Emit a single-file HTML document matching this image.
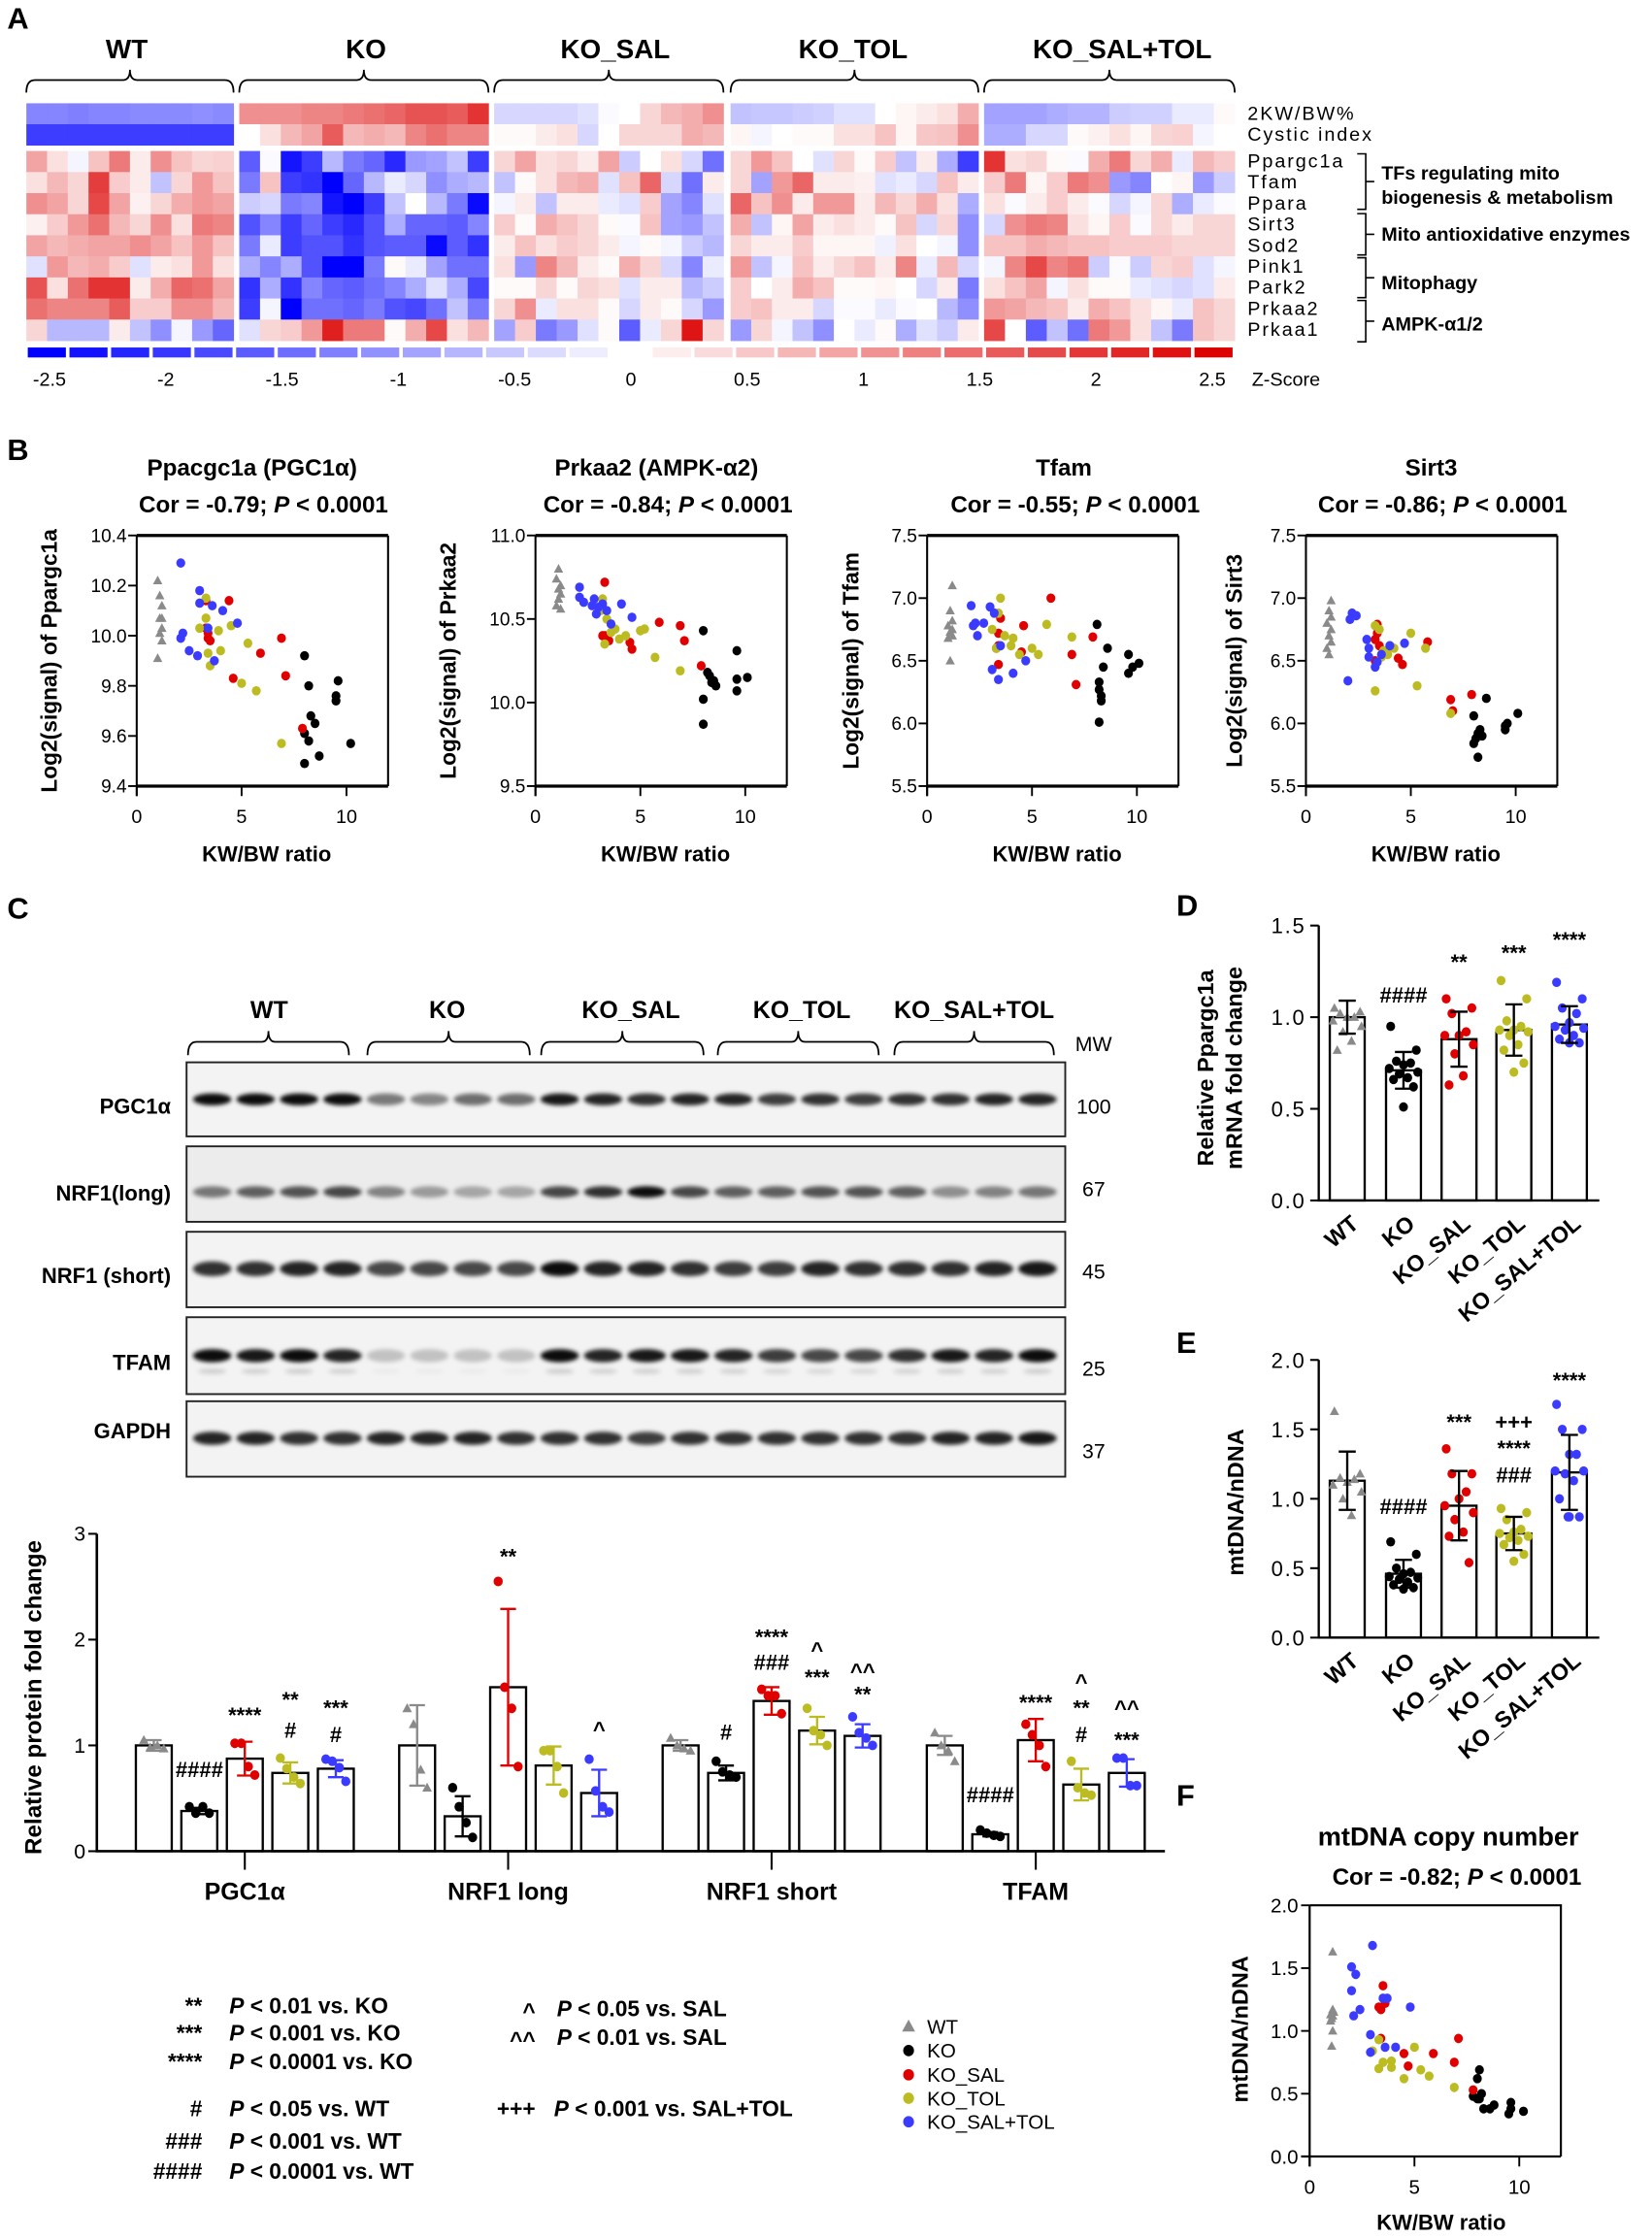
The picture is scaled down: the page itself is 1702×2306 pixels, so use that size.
<!DOCTYPE html>
<html><head><meta charset="utf-8">
<style>
html,body{margin:0;padding:0;background:#fff;}
svg{display:block;font-family:"Liberation Sans",Arial,sans-serif;}
.b{font-weight:bold;}
</style></head>
<body>
<svg id="fig" width="1702" height="2306" viewBox="0 0 1160 1571.6" xmlns="http://www.w3.org/2000/svg">
<defs>
<filter id="blur" x="-50%" y="-100%" width="200%" height="300%"><feGaussianBlur stdDeviation="1.4"/></filter>
</defs>
<text x="5" y="20" class="b" font-size="21">A</text>
<text x="5" y="323" class="b" font-size="21">B</text>
<text x="5" y="645" class="b" font-size="21">C</text>
<text x="826" y="643" class="b" font-size="21">D</text>
<text x="826" y="950" class="b" font-size="21">E</text>
<text x="826" y="1268" class="b" font-size="21">F</text>

<g id="heatmap"></g>
<g id="scatterB"></g>
<g id="blots"></g>
<g id="barC"></g>
<g id="barD"></g>
<g id="barE"></g>
<g id="scatF"></g>

<g font-size="15.5" class="b">
<text x="142" y="1414" text-anchor="end">**</text>
<text x="161" y="1414"><tspan font-style="italic">P</tspan> &lt; 0.01 vs. KO</text>
<text x="142" y="1433" text-anchor="end">***</text>
<text x="161" y="1433"><tspan font-style="italic">P</tspan> &lt; 0.001 vs. KO</text>
<text x="142" y="1453" text-anchor="end">****</text>
<text x="161" y="1453"><tspan font-style="italic">P</tspan> &lt; 0.0001 vs. KO</text>
<text x="142" y="1486" text-anchor="end">#</text>
<text x="161" y="1486"><tspan font-style="italic">P</tspan> &lt; 0.05 vs. WT</text>
<text x="142" y="1509" text-anchor="end">###</text>
<text x="161" y="1509"><tspan font-style="italic">P</tspan> &lt; 0.001 vs. WT</text>
<text x="142" y="1530" text-anchor="end">####</text>
<text x="161" y="1530"><tspan font-style="italic">P</tspan> &lt; 0.0001 vs. WT</text>
<text x="376" y="1418" text-anchor="end">^</text>
<text x="391" y="1416"><tspan font-style="italic">P</tspan> &lt; 0.05 vs. SAL</text>
<text x="376" y="1438" text-anchor="end">^^</text>
<text x="391" y="1436"><tspan font-style="italic">P</tspan> &lt; 0.01 vs. SAL</text>
<text x="376" y="1486" text-anchor="end">+++</text>
<text x="389" y="1486"><tspan font-style="italic">P</tspan> &lt; 0.001 vs. SAL+TOL</text>
</g>
<g id="groupLegend"></g>
</svg>
<script>
const groups = ['WT','KO','KO_SAL','KO_TOL','KO_SAL+TOL'];
const groupColors = ['#8a8a8a','#000000','#e00000','#bcbc22','#3b3bff'];

const hmCounts = [10,12,11,12,12];
const hmRowLabels = ['2KW/BW%','Cystic index','Ppargc1a','Tfam','Ppara','Sirt3','Sod2','Pink1','Park2','Prkaa2','Prkaa1'];
const hmKWBW = [-1.2,-1.2,-1.25,-1.2,-1.2,-1.15,-1.15,-1.15,-1.1,-1.15, 1.1,1.1,1.1,1.2,1.2,1.3,1.4,1.5,1.7,1.7,1.6,2.0, -0.4,-0.4,-0.4,-0.4,-0.3,-0.05,0.0,0.4,0.7,0.8,1.1, -0.6,-0.55,-0.55,-0.5,-0.45,-0.3,-0.3,0.0,0.1,0.2,0.3,0.8, -0.9,-0.9,-0.9,-0.8,-0.75,-0.75,-0.5,-0.45,-0.45,-0.2,-0.2,0.05];
const hmCystic = [-1.9,-1.9,-1.9,-1.9,-1.9,-1.9,-1.9,-1.9,-1.9,-1.9, 0.0,0.3,0.7,0.9,1.6,0.7,0.8,0.7,1.2,1.4,1.2,1.2, 0.05,0.05,0.2,0.3,-0.4,0.0,0.4,0.4,0.4,0.8,0.7, 0.1,-0.1,0.0,0.05,0.05,0.3,0.3,0.6,0.1,0.55,0.6,1.1, -0.8,-0.8,-0.4,-0.4,0.05,0.15,0.3,0.1,0.4,0.45,-0.1,0.0];
const hmPpargc1a = [0.9,0.3,-0.1,0.6,1.3,0.2,1.1,0.6,0.4,0.45, -1.6,-0.05,-2.3,-1.9,-0.7,-1.3,-1.5,-2.1,-1.0,-0.9,-0.6,-1.9, 0.4,0.9,0.3,0.4,0.2,0.9,-0.5,0.0,0.3,-0.4,-1.4, 0.4,1.0,0.6,0.0,-0.3,0.4,0.05,0.5,-0.6,0.2,-0.8,-1.9, 2.0,0.3,0.4,0.05,-0.05,0.8,1.3,0.4,0.8,-0.2,0.7,0.5];
const hmTfam = [0.3,0.7,0.4,1.9,0.5,0.2,-0.6,0.4,1.0,0.6, -1.3,0.6,-1.9,-2.0,-2.5,-1.5,-0.7,-0.2,-0.4,-1.1,-0.8,-0.7, -0.6,0.05,0.3,0.7,0.8,-0.3,0.6,1.5,-0.4,-1.4,0.2, 0.4,-0.9,1.0,1.5,0.2,0.2,0.15,-0.3,-0.2,-0.4,0.6,0.2, 0.5,1.3,0.1,0.5,1.3,1.1,-1.0,-1.2,0.0,0.1,-1.0,-0.5];
const hmPpara = [1.1,0.9,0.4,1.8,0.9,0.15,0.4,0.8,1.0,0.9, -0.5,-0.4,-1.3,-1.2,-2.3,-2.5,-1.9,-0.6,0.0,-0.7,-1.3,-2.4, -0.1,0.2,-0.6,0.2,0.2,-0.2,-0.3,0.5,-0.9,-1.2,-0.3, 1.5,0.6,1.1,0.2,1.0,1.0,0.2,0.7,0.4,0.8,0.3,-0.8, 0.3,-0.05,0.2,0.5,0.2,-0.05,-0.4,-0.1,0.4,-0.8,-0.2,-0.05];
const hmSirt3 = [0.15,0.5,1.0,1.4,0.7,0.4,1.1,0.3,1.3,1.2, -1.7,-1.2,-1.9,-1.5,-1.9,-2.1,-1.7,-0.8,-1.5,-1.5,-1.6,-1.2, 0.5,0.05,0.8,0.6,0.4,0.05,-0.05,0.6,-0.9,-1.0,-0.6, 0.8,-0.6,0.1,0.9,0.2,0.3,0.2,0.05,0.6,-0.4,0.4,-1.1, -0.4,1.1,1.3,1.2,0.3,0.1,0.5,-0.05,0.4,0.2,0.4,0.4];
const hmSod2 = [0.9,0.7,0.8,0.9,0.9,1.1,0.9,0.6,1.0,0.6, -1.3,-0.2,-1.9,-1.7,-1.7,-2.0,-1.7,-1.6,-1.6,-2.4,-1.6,-2.0, 0.2,0.6,0.3,0.5,0.4,0.2,-0.1,0.05,-0.1,-0.5,-0.7, 0.4,0.2,0.2,0.5,0.1,0.1,0.1,-0.15,0.3,0.0,-0.1,-1.1, 0.6,0.6,0.8,0.7,0.6,0.6,0.5,0.5,0.5,0.4,0.4,0.4];
const hmPink1 = [-0.3,1.0,0.7,0.8,0.5,-0.3,0.2,0.3,1.0,0.3, -0.8,-1.2,-0.8,-1.7,-2.5,-2.5,-1.3,0.05,-0.2,-0.9,-1.4,-1.4, 0.3,-1.0,1.2,0.7,0.2,0.05,0.8,0.4,-0.4,-1.2,-0.2, 1.0,-0.6,-0.1,0.6,0.2,0.4,0.6,0.2,1.2,-0.2,0.7,-0.4, -0.1,1.2,1.8,1.2,1.4,-0.5,-0.05,-0.5,0.4,0.5,-0.3,-0.1];
const hmPark2 = [1.7,0.3,1.4,2.0,2.0,0.2,0.8,1.5,1.4,0.9, -2.0,-0.8,-2.0,-1.2,-1.5,-1.6,-1.4,-1.2,-0.8,-0.3,-0.8,-1.8, 0.05,0.05,0.4,0.05,0.4,0.3,-0.3,0.2,0.2,-0.7,-0.5, 0.5,0.0,0.2,0.8,0.6,0.05,0.05,0.1,0.0,-0.4,0.2,-1.3, 0.3,0.6,0.9,-0.1,0.3,0.05,0.05,-0.2,-0.3,-0.4,-0.3,0.2];
const hmPrkaa2 = [1.4,1.2,1.2,1.2,1.6,0.5,0.5,1.1,1.1,0.7, -1.9,-0.1,-2.5,-1.4,-1.4,-1.5,-1.3,-1.7,-1.8,-1.4,-0.6,-1.3, 0.4,1.1,-0.2,0.3,0.3,0.05,-0.4,0.2,0.05,-0.4,-1.0, 0.5,0.6,0.2,0.2,-0.4,-0.05,-0.05,-0.2,-0.05,0.0,-0.7,-1.1, 1.0,0.9,0.7,0.6,0.2,0.8,0.6,0.3,0.1,-0.2,0.6,0.4];
const hmPrkaa1 = [0.4,-0.7,-0.7,-0.7,0.2,-0.6,-1.1,-0.1,-1.0,-1.5, -0.3,0.4,0.5,1.0,2.2,1.3,1.3,0.05,0.8,1.8,0.3,0.7, -0.9,0.5,-1.3,-1.0,-0.3,0.05,-1.6,-0.2,0.4,2.3,0.4, -1.0,0.4,-0.1,-0.6,-1.1,0.0,-0.2,0.05,-0.8,-0.3,-0.5,0.2, 1.8,0.0,-1.6,-0.6,-1.4,1.3,1.0,0.3,-0.6,-1.3,0.6,0.4];
const hmRows = [hmKWBW,hmCystic,hmPpargc1a,hmTfam,hmPpara,hmSirt3,hmSod2,hmPink1,hmPark2,hmPrkaa2,hmPrkaa1];
const zTicks = [-2.5,-2,-1.5,-1,-0.5,0,0.5,1,1.5,2,2.5];

const bTitles = ['Ppacgc1a (PGC1α)','Prkaa2 (AMPK-α2)','Tfam','Sirt3'];
const bCors = ['-0.79','-0.84','-0.55','-0.86'];
const bYLabels = ['Log2(signal) of Ppargc1a','Log2(signal) of Prkaa2','Log2(signal) of Tfam','Log2(signal) of Sirt3'];
const bYTicks = [[9.4,9.6,9.8,10.0,10.2,10.4],[9.5,10.0,10.5,11.0],[5.5,6.0,6.5,7.0,7.5],[5.5,6.0,6.5,7.0,7.5]];
const xTicksKW = [0,5,10];
const p1WTx=[1.0,1.1,1.2,1.2,1.1,1.2,1.1,1.2,1.0], p1WTy=[10.22,10.16,10.12,10.07,10.07,10.03,10.01,9.98,9.91];
const p1KOx=[8.0,8.2,9.6,9.5,9.5,8.3,8.5,8.0,8.2,8.7,8.0,10.2], p1KOy=[9.92,9.80,9.82,9.76,9.74,9.68,9.65,9.61,9.58,9.52,9.49,9.57];
const p1SALx=[3.3,4.4,3.3,3.4,3.4,3.5,6.9,5.9,4.6,7.1,7.9], p1SALy=[10.14,10.14,10.03,10.01,9.99,9.98,9.99,9.93,9.83,9.84,9.63];
const p1TOLx=[3.3,3.3,3.0,3.9,4.5,5.3,4.0,3.4,3.5,5.0,5.7,6.9], p1TOLy=[10.15,10.07,10.03,10.02,10.04,9.97,9.94,9.93,9.88,9.81,9.78,9.57];
const p1STx=[2.1,3.0,3.0,3.6,4.1,4.8,2.2,2.1,2.5,2.9,3.7,3.4], p1STy=[10.29,10.18,10.13,10.12,10.10,10.05,10.01,9.99,9.94,9.92,9.90,10.03];
const p2WTx=[1.1,1.0,1.2,1.1,1.2,1.1,1.0,1.2], p2WTy=[10.80,10.74,10.70,10.68,10.65,10.62,10.58,10.56];
const p2KOx=[8.0,9.6,8.2,8.3,10.1,8.4,8.6,9.6,9.6,8.0,8.0,8.5], p2KOy=[10.43,10.31,10.18,10.16,10.15,10.12,10.10,10.14,10.07,10.02,9.87,10.13];
const p2SALx=[3.3,5.9,6.9,3.3,3.4,3.5,4.5,4.6,7.1,7.9,3.2], p2SALy=[10.72,10.48,10.46,10.40,10.38,10.37,10.36,10.32,10.37,10.22,10.40];
const p2TOLx=[3.2,3.1,3.8,5.0,5.2,3.3,4.0,5.7,6.9,3.4,3.6,4.3], p2TOLy=[10.62,10.55,10.44,10.43,10.44,10.35,10.38,10.27,10.19,10.50,10.42,10.40];
const p2STx=[2.1,2.1,2.3,2.8,3.2,4.1,2.9,4.6,3.6,3.4,3.0,2.7], p2STy=[10.69,10.63,10.60,10.62,10.59,10.59,10.53,10.51,10.47,10.55,10.57,10.58];
const p3WTx=[1.2,1.1,1.2,1.0,1.2,1.1,1.2,1.0,1.1], p3WTy=[7.10,6.90,6.82,6.78,6.75,6.73,6.70,6.68,6.50];
const p3KOx=[8.1,8.6,9.6,10.1,8.4,9.8,9.6,8.2,8.2,8.3,8.3,8.2], p3KOy=[6.79,6.60,6.55,6.48,6.45,6.45,6.40,6.33,6.27,6.22,6.18,6.01];
const p3SALx=[5.9,4.6,3.5,3.4,7.9,3.4,4.5,6.9,3.4,7.1,3.3], p3SALy=[7.00,6.78,6.84,6.72,6.69,6.62,6.57,6.55,6.47,6.31,6.60];
const p3TOLx=[3.5,3.4,3.1,3.7,4.1,5.7,6.9,5.0,5.3,4.4,3.3,4.0], p3TOLy=[7.00,6.88,6.75,6.70,6.68,6.79,6.69,6.60,6.55,6.55,6.60,6.62];
const p3STx=[2.1,2.3,2.2,3.0,3.2,2.4,3.5,4.1,4.7,3.4,3.1,2.7], p3STy=[6.94,6.80,6.78,6.93,6.88,6.70,6.62,6.40,6.50,6.35,6.43,6.80];
const p4WTx=[1.2,1.1,1.2,1.0,1.2,1.1,1.2,1.0,1.1], p4WTy=[6.98,6.90,6.85,6.80,6.75,6.70,6.65,6.60,6.55];
const p4KOx=[8.6,8.0,10.1,9.5,9.5,8.3,8.4,8.1,8.0,8.2,9.6,8.2], p4KOy=[6.20,6.06,6.08,5.98,5.95,5.95,5.90,5.88,5.84,5.73,6.00,5.92];
const p4SALx=[3.4,3.4,3.3,3.5,4.4,4.6,5.8,3.3,7.9,6.9,7.0], p4SALy=[6.79,6.72,6.67,6.62,6.52,6.47,6.65,6.50,6.23,6.19,6.10];
const p4TOLx=[3.3,3.5,5.0,4.0,3.7,3.6,5.7,5.3,3.3,6.9,4.2,3.9], p4TOLy=[6.78,6.75,6.72,6.62,6.58,6.53,6.60,6.30,6.26,6.08,6.60,6.55];
const p4STx=[2.2,2.4,2.1,2.9,3.0,4.7,3.0,3.4,3.3,4.0,2.0,3.6], p4STy=[6.88,6.86,6.83,6.67,6.60,6.64,6.53,6.49,6.45,6.62,6.34,6.55];

const blotNames = ['PGC1α','NRF1(long)','NRF1 (short)','TFAM','GAPDH'];
const blotMW = ['100','67','45','25','37'];
const bandPGC = [0.95,0.95,0.95,0.95,0.5,0.45,0.55,0.55,0.9,0.85,0.8,0.85,0.85,0.75,0.8,0.75,0.8,0.8,0.85,0.85];
const bandNRFL = [0.5,0.6,0.65,0.7,0.45,0.35,0.3,0.3,0.7,0.8,0.95,0.7,0.6,0.6,0.65,0.65,0.6,0.4,0.45,0.5];
const bandNRFS = [0.8,0.8,0.85,0.85,0.7,0.7,0.7,0.7,0.95,0.85,0.85,0.8,0.75,0.75,0.85,0.8,0.8,0.8,0.85,0.9];
const bandTFAM = [0.95,0.9,0.95,0.85,0.2,0.2,0.2,0.2,0.95,0.85,0.9,0.9,0.85,0.75,0.7,0.7,0.8,0.9,0.85,0.95];
const bandGAPDH = [0.85,0.85,0.8,0.8,0.85,0.85,0.85,0.8,0.8,0.8,0.75,0.8,0.8,0.8,0.8,0.8,0.8,0.85,0.85,0.9];

const cCategories = ['PGC1α','NRF1 long','NRF1 short','TFAM'];
const cMeans = [[1.0,0.38,0.875,0.74,0.78],[1.0,0.33,1.55,0.81,0.55],[1.0,0.74,1.42,1.14,1.09],[1.0,0.16,1.05,0.63,0.74]];
const cSD = [[0.05,0.03,0.16,0.10,0.08],[0.38,0.19,0.74,0.18,0.22],[0.05,0.07,0.13,0.13,0.11],[0.09,0.02,0.20,0.15,0.13]];
const cPointsPGC = [[1.05,0.98,1.0,0.97],[0.42,0.36,0.42,0.36],[1.02,1.02,0.80,0.72],[0.88,0.78,0.70,0.64]];
const cPointsPGCst = [0.87,0.85,0.79,0.66];
const cPointsNRFL = [[1.35,1.20,0.77,0.60],[0.60,0.42,0.27,0.13],[2.55,1.55,1.35,0.80],[0.95,0.95,0.80,0.55],[0.87,0.57,0.42,0.37]];
const cPointsNRFS = [[1.07,1.0,0.97,0.95],[0.85,0.75,0.72,0.70],[1.53,1.47,1.47,1.30],[1.35,1.14,1.10,1.00],[1.27,1.12,1.07,1.00]];
const cPointsTFAM = [[1.12,1.0,0.95,0.85],[0.20,0.17,0.15,0.14],[1.20,1.10,1.00,0.80],[0.85,0.60,0.55,0.53],[0.88,0.88,0.62,0.62]];
const cAnnot = [
  [[],['####'],['****'],['**','#'],['***','#']],
  [[],[],['**'],[],['^']],
  [[],['#'],['****','###'],['^','***'],['^^','**']],
  [[],['####'],['****'],['^','**','#'],['^^','***']]
];
const cAnnotVal = [
  [[],[0.77],[1.28],[1.43,1.14],[1.35,1.10]],
  [[],[],[2.78],[],[1.15]],
  [[],[1.12],[2.02,1.78],[1.90,1.64],[1.70,1.48]],
  [[],[0.53],[1.40],[1.60,1.35,1.10],[1.35,1.05]]
];

const dMeans = [1.0,0.71,0.88,0.93,0.96];
const dSD = [0.09,0.10,0.15,0.14,0.10];
const dWT = [1.05,1.03,1.02,1.0,1.0,0.98,0.95,0.92,0.87,0.82];
const dKO = [0.95,0.82,0.76,0.75,0.74,0.72,0.70,0.69,0.67,0.66,0.62,0.51];
const dSAL = [1.10,1.05,1.02,0.92,0.90,0.90,0.85,0.80,0.68,0.63];
const dTOL = [1.20,1.10,0.98,0.95,0.93,0.93,0.92,0.90,0.85,0.82,0.75,0.70];
const dST = [1.19,1.10,1.05,1.02,0.97,0.95,0.94,0.93,0.90,0.88,0.86,0.86];
const dAnnot = [[],['####'],['**'],['***'],['****']];
const dAnnotVal = [[],[1.12],[1.30],[1.35],[1.42]];
const dTicks = [0,0.5,1.0,1.5];
const eMeans = [1.13,0.46,0.95,0.75,1.19];
const eSD = [0.21,0.10,0.25,0.12,0.27];
const eWT = [1.63,1.18,1.15,1.14,1.12,1.10,1.05,1.00,0.88];
const eKO = [0.69,0.60,0.50,0.47,0.46,0.44,0.43,0.42,0.40,0.38,0.36,0.35];
const eSAL = [1.36,1.18,1.18,1.05,1.00,0.95,0.90,0.85,0.76,0.73,0.54];
const eTOL = [0.93,0.90,0.85,0.78,0.76,0.75,0.73,0.72,0.70,0.67,0.60,0.55];
const eST = [1.68,1.50,1.50,1.32,1.32,1.20,1.20,1.18,1.13,1.00,0.87,0.87,0.87];
const eAnnot = [[],['####'],['***'],['+++','****','###'],['****']];
const eAnnotVal = [[],[0.94],[1.55],[1.55,1.36,1.17],[1.85]];
const eTicks = [0,0.5,1.0,1.5,2.0];
const fWTx=[1.1,1.1,1.15,1.0,1.1,1.05,1.0,1.1,1.05], fWTy=[1.63,1.17,1.15,1.13,1.12,1.10,1.08,1.00,0.88];
const fKOx=[8.1,8.0,7.8,8.0,8.2,8.1,8.3,8.6,8.8,9.6,9.5,10.2,9.6], fKOy=[0.69,0.62,0.48,0.46,0.50,0.46,0.38,0.38,0.41,0.43,0.34,0.36,0.38];
const fSALx=[3.5,3.6,3.4,3.3,3.4,4.5,4.7,5.9,7.1,6.9,7.8], fSALy=[1.36,1.22,1.17,1.19,0.94,0.82,0.72,0.82,0.94,0.75,0.53];
const fTOLx=[3.3,3.0,3.3,3.5,3.9,3.9,4.5,5.0,5.3,5.7,6.9], fTOLy=[0.93,0.84,0.70,0.75,0.76,0.71,0.62,0.87,0.69,0.64,0.55];
const fSTx=[2.0,2.2,2.0,2.4,2.1,3.0,3.5,3.7,4.8,2.9,3.6,4.1,2.9], fSTy=[1.51,1.45,1.32,1.17,1.12,1.68,1.26,1.26,1.19,0.97,0.87,0.87,0.83];
const fYTicks = [0.0,0.5,1.0,1.5,2.0];

const NS='http://www.w3.org/2000/svg';
function mk(tag, attrs, parent){const e=document.createElementNS(NS,tag);for(const k in attrs)e.setAttribute(k,attrs[k]);if(parent)parent.appendChild(e);return e;}
function txt(parent,x,y,s,attrs){const e=mk('text',Object.assign({x:x,y:y},attrs||{}),parent);e.textContent=s;return e;}
function zColor(z){z=Math.max(-2.5,Math.min(2.5,z));const t=Math.abs(z)/2.5;
  if(z<0){return 'rgb('+Math.round(255-255*t)+','+Math.round(255-255*t)+',255)';}
  return 'rgb('+Math.round(255-35*t)+','+Math.round(255-255*t)+','+Math.round(255-255*t)+')';}
function marker(parent,cx,cy,gi,size){
  let e;
  if(gi===0){const s=size*1.05;e=mk('path',{d:'M'+cx+' '+(cy-s)+' L'+(cx+s*0.95)+' '+(cy+s*0.75)+' L'+(cx-s*0.95)+' '+(cy+s*0.75)+' Z',fill:groupColors[0]},parent);}
  else{e=mk('ellipse',{cx:cx,cy:cy,rx:size*0.95,ry:size,fill:groupColors[gi]},parent);}
  return e;}
function brace(parent,x0,x1,ytop,ybot){
  const xm=(x0+x1)/2, ym=ytop+(ybot-ytop)*0.45;
  const d='M'+x0+' '+ybot+' Q'+x0+' '+ym+' '+(x0+6)+' '+ym+' L'+(xm-5)+' '+ym+' Q'+xm+' '+ym+' '+xm+' '+ytop+' Q'+xm+' '+ym+' '+(xm+5)+' '+ym+' L'+(x1-6)+' '+ym+' Q'+x1+' '+ym+' '+x1+' '+ybot;
  return mk('path',{d:d,fill:'none',stroke:'#000','stroke-width':1.2},parent);}

(function(){
const g=document.getElementById('heatmap');
const gx0=[18.5,168,347,513,691], gx1=[164,343,508,687,867];
const rowY=[72.5,87.2,106,120.8,135.6,150.4,165.2,180,194.8,209.6,224.4], rowH=[14.7,14.7,14.8,14.8,14.8,14.8,14.8,14.8,14.8,14.8,14.8];
const gLabelX=[89,257,432,599,788];
groups.forEach((name,gi)=>{
  const t=txt(g,gLabelX[gi],41,name,{'text-anchor':'middle','font-size':19,'font-weight':'bold'});
  
  
  const b=brace(g,gx0[gi],gx1[gi],49,65);
  
  
});
hmRows.forEach((row,ri)=>{
  let col=0;
  hmCounts.forEach((n,gi)=>{
    const w=(gx1[gi]-gx0[gi])/n;
    for(let k=0;k<n;k++){
      const c=mk('rect',{x:gx0[gi]+k*w,y:rowY[ri],width:w+0.3,height:rowH[ri]+0.3,fill:zColor(row[col])},g);
      
      
      col++;
    }
  });
  const l=txt(g,876,rowY[ri]+11.5,hmRowLabels[ri],{'font-size':13.5,'letter-spacing':'1.3'});
  
  
});
const nSw=29, sx0=18.5, sx1=867, sw=(sx1-sx0)/nSw;
for(let i=0;i<nSw;i++){
  const z=-2.5+i*5/(nSw-1);
  const r=mk('rect',{x:sx0+i*sw+1,y:244,width:sw-2.5,height:7,fill:zColor(z)},g);
  
  
}
zTicks.forEach(z=>{
  const t=txt(g,443+z*163.3,271,String(z),{'text-anchor':'middle','font-size':13.5});
  
  
});
const zs=txt(g,879,271,'Z-Score',{'font-size':13.5});


const ann=[[108,147,['TFs regulating mito','biogenesis & metabolism'],[126,143]],[150,179,['Mito antioxidative enzymes'],[169]],[181,209,['Mitophagy'],[203]],[211,240,['AMPK-α1/2'],[232]]];
ann.forEach(a=>{
  const xm=(a[0]+a[1])/2;
  const p=mk('path',{d:'M953 '+a[0]+' L959 '+a[0]+' L959 '+a[1]+' L953 '+a[1]+' M959 '+xm+' L965 '+xm,fill:'none',stroke:'#000','stroke-width':1.1},g);
  
  
  a[2].forEach((s,i)=>{
    const t=txt(g,970,a[3][i],s,{'font-size':13.5,'font-weight':'bold'});
    
    
  });
});
})();

function scatterPlot(g,o){
  const sx=v=>o.x0+(o.x10-o.x0)*v/10;
  const sy=v=>o.bottom-(v-o.ymin)/(o.ymax-o.ymin)*(o.bottom-o.top);
  const frame=mk('path',{d:'M'+o.x0+' '+o.top+' L'+o.right+' '+o.top+' M'+o.x0+' '+o.bottom+' L'+o.right+' '+o.bottom,stroke:'#000','stroke-width':2.2,fill:'none'},g);
  
  
  const side=mk('path',{d:'M'+o.x0+' '+o.top+' L'+o.x0+' '+(o.bottom+7)+' M'+o.right+' '+o.top+' L'+o.right+' '+o.bottom,stroke:'#000','stroke-width':1.4,fill:'none'},g);
  
  
  o.yticks.forEach(v=>{
    const y=sy(v);
    mk('line',{x1:o.x0-6,x2:o.x0,y1:y,y2:y,stroke:'#000','stroke-width':1.3},g);
    const t=txt(g,o.x0-7,y+4.6,v.toFixed(1),{'text-anchor':'end','font-size':13});
    
    
  });
  xTicksKW.forEach(v=>{
    const x=sx(v);
    mk('line',{x1:x,x2:x,y1:o.bottom,y2:o.bottom+7,stroke:'#000','stroke-width':1.3},g);
    const t=txt(g,x,o.bottom+26,String(v),{'text-anchor':'middle','font-size':13.5});
    
    
  });
  o.series.forEach((s,gi)=>{
    s[0].forEach((xv,i)=>{
      const m=marker(g,sx(xv),sy(s[1][i]),gi,3.3);
      
      
    });
  });
  const xl=txt(g,(o.x0+o.right)/2+3,o.bottom+53,'KW/BW ratio',{'text-anchor':'middle','font-size':15,'font-weight':'bold'});
  
  
  const yl=txt(g,0,0,o.ylabel,{'text-anchor':'middle','font-size':15.5,'font-weight':'bold',transform:'translate('+o.ylx+','+((o.top+o.bottom)/2)+') rotate(-90)'});
  
  
  const tt=txt(g,o.tx,o.top-42,o.title,{'text-anchor':'middle','font-size':16.5,'font-weight':'bold'});
  
  
  const ct=mk('text',{x:o.tx+8,y:o.top-16,'text-anchor':'middle','font-size':16.5,'font-weight':'bold'},g);
  ct.innerHTML='Cor = '+o.cor+'; <tspan font-style="italic">P</tspan> &lt; 0.0001';
  
  
}

(function(){
const g=document.getElementById('scatterB');
const geo=[[96,243.3,272.5,40,177],[376,523.3,552.5,320,461],[651,798.3,827.5,603,747],[917,1064.3,1093.5,872,1005]];
const ranges=[[9.4,10.4],[9.5,11.0],[5.5,7.5],[5.5,7.5]];
const series=[
 [[p1WTx,p1WTy],[p1KOx,p1KOy],[p1SALx,p1SALy],[p1TOLx,p1TOLy],[p1STx,p1STy]],
 [[p2WTx,p2WTy],[p2KOx,p2KOy],[p2SALx,p2SALy],[p2TOLx,p2TOLy],[p2STx,p2STy]],
 [[p3WTx,p3WTy],[p3KOx,p3KOy],[p3SALx,p3SALy],[p3TOLx,p3TOLy],[p3STx,p3STy]],
 [[p4WTx,p4WTy],[p4KOx,p4KOy],[p4SALx,p4SALy],[p4TOLx,p4TOLy],[p4STx,p4STy]]];
for(let i=0;i<4;i++){
  const sub=mk('g',{},g);
  
  
  scatterPlot(sub,{x0:geo[i][0],x10:geo[i][1],right:geo[i][2],ylx:geo[i][3],tx:geo[i][4],top:376,bottom:552,ymin:ranges[i][0],ymax:ranges[i][1],yticks:bYTicks[i],series:series[i],ylabel:bYLabels[i],title:bTitles[i],cor:bCors[i]});
}
})();

(function(){
const g=document.getElementById('blots');
const bx0=[132,258,380,504,628], bx1=[245,372,494,617,740], lx=[189,314,443,563,684];
groups.forEach((n,gi)=>{
  const t=txt(g,lx[gi],715,n,{'text-anchor':'middle','font-size':17,'font-weight':'bold'});
  
  
  const b=brace(g,bx0[gi],bx1[gi],724,741);
  
  
});
const mw=txt(g,755,738,'MW',{'font-size':14.5});


const boxes=[[746,798],[805,858],[865,918],[925,979],[984,1037]];
const bandY=[772,837,891,952,1010];
const labY=[782,843,901,962,1010];
const mwY=[777,835,893,961,1019];
const bands=[bandPGC,bandNRFL,bandNRFS,bandTFAM,bandGAPDH];
const bh=[4.2,4,5.2,4.6,4.6];
boxes.forEach((bx,i)=>{
  const r=mk('rect',{x:131,y:bx[0],width:617,height:bx[1]-bx[0],fill:i==1?'#ececec':'#f3f3f3',stroke:'#222','stroke-width':1.3},g);
  
  
  bands[i].forEach((v,k)=>{
    const cx=149+k*30.5;
    const e=mk('ellipse',{cx:cx,cy:bandY[i],rx:13.5,ry:bh[i],fill:'#000','fill-opacity':v,filter:'url(#blur)'},g);
    
    
    if(i===3){
      const e2=mk('ellipse',{cx:cx,cy:bandY[i]+11,rx:10,ry:2,fill:'#000','fill-opacity':v*0.15,filter:'url(#blur)'},g);
      
      
    }
  });
  const l=txt(g,120,labY[i],blotNames[i],{'text-anchor':'end','font-size':15,'font-weight':'bold'});
  
  
  const m=txt(g,768,mwY[i]+5,blotMW[i],{'text-anchor':'middle','font-size':14.5});
  
  
});
})();

(function(){
const g=document.getElementById('barC');
const y0=1300, unit=74.3, ax=68;
const sy=v=>y0-v*unit;
const groupLeft=[95.4,280.3,465.3,650.8], step=31.95, bw=25.2;
const pts=[[cPointsPGC[0],cPointsPGC[1],cPointsPGC[2],cPointsPGC[3],cPointsPGCst],cPointsNRFL,cPointsNRFS,cPointsTFAM];
const jit=[-7,-2.5,2.5,7];
cCategories.forEach((cat,ci)=>{
  for(let b=0;b<5;b++){
    const x=groupLeft[ci]+b*step, cx=x+bw/2, m=cMeans[ci][b], sd=cSD[ci][b];
    const r=mk('rect',{x:x,y:sy(m),width:bw,height:m*unit,fill:'#fff',stroke:'#000','stroke-width':1.6},g);
    
    
    pts[ci][b].forEach((v,k)=>{
      const p=marker(g,cx+jit[k],sy(v),b,3.4);
      
      
    });
    const ec=b===0?'#8a8a8a':groupColors[b];
    const eb=mk('path',{d:'M'+cx+' '+sy(m-sd)+' L'+cx+' '+sy(m+sd)+' M'+(cx-5.5)+' '+sy(m+sd)+' L'+(cx+5.5)+' '+sy(m+sd)+' M'+(cx-5.5)+' '+sy(m-sd)+' L'+(cx+5.5)+' '+sy(m-sd),stroke:ec,'stroke-width':1.6,fill:'none'},g);
    
    
    cAnnot[ci][b].forEach((s,k)=>{
      const t=txt(g,cx,sy(cAnnotVal[ci][b][k])+5,s,{'text-anchor':'middle','font-size':15,'font-weight':'bold'});
      
      
    });
  }
  const gc=groupLeft[ci]+2*step+bw/2;
  mk('line',{x1:gc,x2:gc,y1:y0,y2:y0+13,stroke:'#000','stroke-width':1.4},g);
  const t=txt(g,gc,y0+34,cat,{'text-anchor':'middle','font-size':17,'font-weight':'bold'});
  
  
});
const axes=mk('path',{d:'M'+ax+' '+sy(3)+' L'+ax+' '+y0+' L818 '+y0,stroke:'#000','stroke-width':1.8,fill:'none'},g);


[0,1,2,3].forEach(v=>{
  mk('line',{x1:ax-6,x2:ax,y1:sy(v),y2:sy(v),stroke:'#000','stroke-width':1.4},g);
  const t=txt(g,ax-8,sy(v)+5,String(v),{'text-anchor':'end','font-size':14.5});
  
  
});
const yl=txt(g,0,0,'Relative protein fold change',{'text-anchor':'middle','font-size':16.5,'font-weight':'bold',transform:'translate(29,1192) rotate(-90)'});


})();

function groupBar(g,o){
  const sy=v=>o.y0-v*o.unit;
  const centers=[946,985.5,1024.5,1063,1102], bw=24.5;
  const jit=[-9,9,-5,5,0,-10,10,-3,3,-7,7,0,-1];
  o.data.forEach((arr,b)=>{
    const cx=centers[b], m=o.means[b], sd=o.sd[b];
    const r=mk('rect',{x:cx-bw/2,y:sy(m),width:bw,height:m*o.unit,fill:'#fff',stroke:'#000','stroke-width':1.6},g);
    
    
    arr.forEach((v,k)=>{
      const p=marker(g,cx+jit[k%jit.length],sy(v),b,3.3);
      
      
    });
    const eb=mk('path',{d:'M'+cx+' '+sy(m-sd)+' L'+cx+' '+sy(m+sd)+' M'+(cx-6)+' '+sy(m+sd)+' L'+(cx+6)+' '+sy(m+sd)+' M'+(cx-6)+' '+sy(m-sd)+' L'+(cx+6)+' '+sy(m-sd),stroke:'#000','stroke-width':1.6,fill:'none'},g);
    
    
    o.annot[b].forEach((s,k)=>{
      const t=txt(g,cx,sy(o.annotVal[b][k])+5,s,{'text-anchor':'middle','font-size':15,'font-weight':'bold'});
      
      
    });
    const xl=txt(g,0,0,groups[b],{'text-anchor':'end','font-size':16,'font-weight':'bold',transform:'translate('+(cx+9)+','+(o.y0+18)+') rotate(-40)'});
    
    
  });
  const top=sy(o.ticks[o.ticks.length-1]);
  const axes=mk('path',{d:'M926 '+top+' L926 '+o.y0+' L1123 '+o.y0,stroke:'#000','stroke-width':1.6,fill:'none'},g);
  
  
  o.ticks.forEach(v=>{
    mk('line',{x1:920,x2:926,y1:sy(v),y2:sy(v),stroke:'#000','stroke-width':1.4},g);
    const t=txt(g,917,sy(v)+5.5,v.toFixed(1),{'text-anchor':'end','font-size':15,'letter-spacing':'1.2'});
    
    
  });
  o.ylabels.forEach((s,i)=>{
    const t=txt(g,0,0,s,{'text-anchor':'middle','font-size':16,'font-weight':'bold',transform:'translate('+o.ylx[i]+','+o.ylc+') rotate(-90)'});
    
    
  });
}
groupBar(document.getElementById('barD'),{y0:843,unit:128.7,means:dMeans,sd:dSD,data:[dWT,dKO,dSAL,dTOL,dST],annot:dAnnot,annotVal:dAnnotVal,ticks:dTicks,ylabels:['Relative Ppargc1a','mRNA fold change'],ylx:[852,872],ylc:750});
groupBar(document.getElementById('barE'),{y0:1150,unit:97.5,means:eMeans,sd:eSD,data:[eWT,eKO,eSAL,eTOL,eST],annot:eAnnot,annotVal:eAnnotVal,ticks:eTicks,ylabels:['mtDNA/nDNA'],ylx:[873],ylc:1055});

(function(){
const g=document.getElementById('scatF');
const x0=919.6,x10=1066.8,right=1096,top=1338,bottom=1514.4;
const sx=v=>x0+(x10-x0)*v/10, sy=v=>bottom-v/2*(bottom-top);
const fr=mk('path',{d:'M'+x0+' '+top+' L'+right+' '+top+' L'+right+' '+bottom+' M'+(x0-6)+' '+bottom+' L'+right+' '+bottom+' M'+x0+' '+top+' L'+x0+' '+(bottom+7),stroke:'#000','stroke-width':1.5,fill:'none'},g);


fYTicks.forEach(v=>{
  mk('line',{x1:x0-6,x2:x0,y1:sy(v),y2:sy(v),stroke:'#000','stroke-width':1.3},g);
  const t=txt(g,x0-8,sy(v)+5,v.toFixed(1),{'text-anchor':'end','font-size':14});
  
  
});
xTicksKW.forEach(v=>{
  mk('line',{x1:sx(v),x2:sx(v),y1:bottom,y2:bottom+7,stroke:'#000','stroke-width':1.3},g);
  const t=txt(g,sx(v),1540.6,String(v),{'text-anchor':'middle','font-size':14});
  
  
});
const ser=[[fWTx,fWTy],[fKOx,fKOy],[fSALx,fSALy],[fTOLx,fTOLy],[fSTx,fSTy]];
ser.forEach((s,gi)=>{
  s[0].forEach((xv,i)=>{
    const m=marker(g,sx(xv),sy(s[1][i]),gi,3.3);
    
    
  });
});
const t1=txt(g,1017,1296,'mtDNA copy number',{'text-anchor':'middle','font-size':18.5,'font-weight':'bold'});


const t2=mk('text',{x:1023,y:1323.5,'text-anchor':'middle','font-size':16.5,'font-weight':'bold'},g);
t2.innerHTML='Cor = -0.82; <tspan font-style="italic">P</tspan> &lt; 0.0001';


const xl=txt(g,1012,1566,'KW/BW ratio',{'text-anchor':'middle','font-size':15,'font-weight':'bold'});


const yl=txt(g,0,0,'mtDNA/nDNA',{'text-anchor':'middle','font-size':16,'font-weight':'bold',transform:'translate(876,1425) rotate(-90)'});


})();

(function(){
const g=document.getElementById('groupLegend');
const ly=[1423,1440,1457,1473.5,1490];
groups.forEach((n,gi)=>{
  const m=marker(g,638,ly[gi],gi,gi===0?4.6:4);
  
  
  const t=txt(g,651,ly[gi]+5,n,{'font-size':14});
  
  
});
})();
</script>
</body></html>
